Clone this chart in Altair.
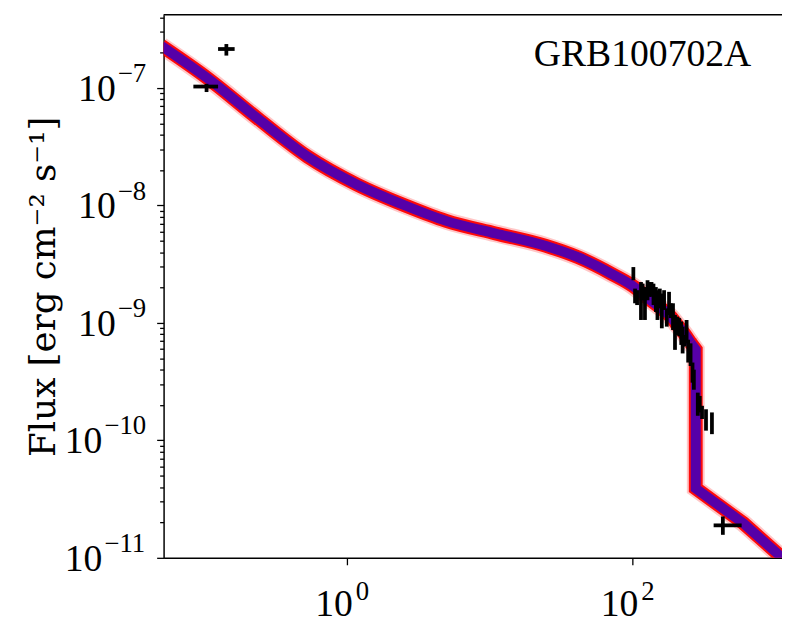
import altair as alt
import pandas as pd

# ---- model curve ----
# smooth part, up to the start of the sharp drop
model1_t = [0.05, 0.1066, 0.237, 0.527, 1.173, 2.61, 4.95, 11.0, 24.5, 41.5, 71.5, 103.3,
            121, 158, 185.6, 206.5, 229.6, 255.7]
model1_f = [2.29e-7, 1.20e-7, 5.51e-8, 2.62e-8, 1.51e-8, 9.9e-9, 7.4e-9, 5.78e-9, 4.55e-9,
            3.63e-9, 2.62e-9, 2.02e-9, 1.72e-9, 1.34e-9, 1.13e-9, 9.6e-10, 8.2e-10, 6.78e-10]
# sharp drop and final decay
model2_t = [255.7, 278, 278, 600, 1083, 1334]
model2_f = [6.78e-10, 5.92e-10, 3.9e-11, 1.97e-11, 1.04e-11, 8.3e-12]

# ---- XRT points: time, flux low, flux high ----
xrt_t = [101.6, 104.4, 107.9, 114.9, 118, 122.5, 127.7, 131.3, 136.2, 140.6, 146.1, 149.9,
         155.7, 160.8, 166.8, 174.2, 180.7, 185.7, 192.6, 198.9, 206.4, 213, 220, 225,
         232.3, 239.9, 246, 255.7, 263.9, 269.7, 287.3, 296.6, 307.7, 328, 361]
xrt_hi = [2.99e-9, 1.96e-9, 1.90e-9, 2.23e-9, 2.16e-9, 2.02e-9, 2.31e-9, 2.23e-9, 2.23e-9,
          2.16e-9, 2.02e-9, 1.90e-9, 1.96e-9, 1.78e-9, 1.90e-9, 1.33e-9, 1.84e-9, 1.47e-9,
          1.47e-9, 1.17e-9, 1.13e-9, 1.10e-9, 1.03e-9, 9.3e-10, 7.9e-10, 1.06e-9, 7.2e-10,
          6.7e-10, 4.6e-10, 4.0e-10, 2.55e-10, 2.39e-10, 1.97e-10, 1.84e-10, 1.73e-10]
xrt_lo = [2.31e-9, 1.47e-9, 1.42e-9, 1.06e-9, 1.56e-9, 1.06e-9, 1.56e-9, 1.67e-9, 1.67e-9,
          1.42e-9, 1.24e-9, 1.06e-9, 1.33e-9, 9.0e-10, 1.29e-9, 9.3e-10, 1.17e-9, 1.10e-9,
          8.7e-10, 5.9e-10, 7.9e-10, 7.7e-10, 6.5e-10, 5.5e-10, 6.3e-10, 6.7e-10, 4.6e-10,
          4.3e-10, 3.1e-10, 2.7e-10, 1.62e-10, 1.73e-10, 1.52e-10, 1.21e-10, 1.13e-10]

# ---- other points with x and y errors ----
pt_t = [0.1038, 0.1429, 430.5]
pt_t_lo = [0.0839, 0.125, 371]
pt_t_hi = [0.125, 0.1633, 583]
pt_f = [1.03e-7, 2.15e-7, 1.89e-11]
pt_f_lo = [9.25e-8, 1.89e-7, 1.57e-11]
pt_f_hi = [1.087e-7, 2.37e-7, 2.25e-11]

# ---- ticks and their labels (base 10 with exponent) ----
x_ticks = [1, 100]
x_exps = ["0", "2"]
y_ticks = [1e-11, 1e-10, 1e-9, 1e-8, 1e-7]
y_exps = ["−11", "−10", "−9", "−8", "−7"]
tick_base = "10"

title_text = "GRB100702A"
y_title = "Flux [erg cm⁻² s⁻¹]"

X_DOMAIN = [0.0519, 1118]
Y_DOMAIN = [1e-11, 4.21e-7]
W, H = 624, 548
FONT = "Liberation Serif"
BASE_SIZE = 38
EXP_SIZE = 27

m1_df = pd.DataFrame({"t": model1_t, "f": model1_f})
m2_df = pd.DataFrame({"t": model2_t, "f": model2_f, "i": list(range(len(model2_t)))})
xrt_df = pd.DataFrame({"t": xrt_t, "lo": xrt_lo, "hi": xrt_hi})
pt_df = pd.DataFrame({"t": pt_t, "tlo": pt_t_lo, "thi": pt_t_hi,
                      "f": pt_f, "flo": pt_f_lo, "fhi": pt_f_hi})
ylab_df = pd.DataFrame({"v": y_ticks, "e": y_exps, "b": [tick_base] * len(y_ticks)})
xlab_df = pd.DataFrame({"v": x_ticks, "e": x_exps, "b": [tick_base] * len(x_ticks)})

y_minor = [m * 10.0 ** e for e in range(-11, -6) for m in range(2, 10) if m * 10.0 ** e < Y_DOMAIN[1]]
y_all = sorted(y_ticks + y_minor)
major_test = " || ".join(f"abs(datum.value/{v!r} - 1) < 1e-6" for v in y_ticks)

x_axis = alt.Axis(values=x_ticks, labels=False, title=None, grid=False, tickSize=7,
                  tickWidth=1.3, tickColor="black", domainColor="black", domainWidth=1.5)
y_axis = alt.Axis(values=y_all, labels=False, title=y_title, grid=False,
                  tickSize={"condition": {"test": major_test, "value": 7}, "value": 4},
                  tickWidth=1.3, tickColor="black", domainColor="black", domainWidth=1.5,
                  titleFont="DejaVu Serif", titleFontSize=36, titleFontWeight="normal",
                  titleColor="black", titleX=-102, titleY=274, titleBaseline="bottom",
                  titleAngle=270)

xs = alt.Scale(type="log", domain=X_DOMAIN, nice=False)
ys = alt.Scale(type="log", domain=Y_DOMAIN, nice=False)


def band(df, interp, ordered):
    enc = dict(x=alt.X("t:Q", scale=xs, axis=x_axis), y=alt.Y("f:Q", scale=ys, axis=y_axis))
    if ordered:
        enc["order"] = "i:Q"
    base = alt.Chart(df).encode(**enc)
    common = dict(clip=True, strokeJoin="miter", strokeCap="butt", interpolate=interp)
    return [
        base.mark_line(color="#ff0000", strokeWidth=18, opacity=0.22, **common),
        base.mark_line(color="#ff0000", strokeWidth=14, opacity=0.95, **common),
        base.mark_line(color="#5600a8", strokeWidth=10, **common),
    ]


layers = band(m1_df, "monotone", False) + band(m2_df, "linear", True)

xrt = alt.Chart(xrt_df).mark_rule(color="black", strokeWidth=3.8).encode(
    x=alt.X("t:Q", scale=xs, axis=x_axis),
    y=alt.Y("lo:Q", scale=ys, axis=y_axis),
    y2="hi:Q",
)
pt_v = alt.Chart(pt_df).mark_rule(color="black", strokeWidth=3.8).encode(
    x=alt.X("t:Q", scale=xs, axis=x_axis),
    y=alt.Y("flo:Q", scale=ys, axis=y_axis),
    y2="fhi:Q",
)
pt_h = alt.Chart(pt_df).mark_rule(color="black", strokeWidth=3.8).encode(
    x=alt.X("tlo:Q", scale=xs, axis=x_axis),
    x2="thi:Q",
    y=alt.Y("f:Q", scale=ys, axis=y_axis),
)

# y tick labels: "10" plus raised exponent
ylab = alt.Chart(ylab_df).transform_calculate(
    bx=f"-14 - {EXP_SIZE}*(0.66 + 0.5*(length(datum.e)-1)) - 3",
    ex=f"-14 - {EXP_SIZE}*(0.66 + 0.5*(length(datum.e)-1)) - 1",
)
ylab_base = ylab.mark_text(align="right", baseline="alphabetic", font=FONT,
                           fontSize=BASE_SIZE, color="black", dy=13).encode(
    x=alt.X("bx:Q", scale=None), y=alt.Y("v:Q", scale=ys, axis=y_axis), text="b:N")
ylab_exp = ylab.mark_text(align="left", baseline="alphabetic", font=FONT,
                          fontSize=EXP_SIZE, color="black", dy=-6).encode(
    x=alt.X("ex:Q", scale=None), y=alt.Y("v:Q", scale=ys, axis=y_axis), text="e:N")

# x tick labels
xlab_base = alt.Chart(xlab_df).mark_text(align="right", baseline="alphabetic", font=FONT,
                                         fontSize=BASE_SIZE, color="black", dx=6).encode(
    x=alt.X("v:Q", scale=xs, axis=x_axis), y=alt.value(H + 59), text="b:N")
xlab_exp = alt.Chart(xlab_df).mark_text(align="left", baseline="alphabetic", font=FONT,
                                        fontSize=EXP_SIZE, color="black", dx=9).encode(
    x=alt.X("v:Q", scale=xs, axis=x_axis), y=alt.value(H + 43), text="e:N")

label = alt.Chart(pd.DataFrame({"txt": [title_text]})).mark_text(
    align="right", baseline="alphabetic", font=FONT, fontSize=38, color="black"
).encode(x=alt.value(593), y=alt.value(52), text="txt:N")

top_border = alt.Chart(pd.DataFrame({"a": [0]})).mark_rule(color="black", strokeWidth=1.5).encode(
    x=alt.value(0), x2=alt.value(W), y=alt.value(0)
)

chart = alt.layer(*layers, xrt, pt_v, pt_h, ylab_base, ylab_exp, xlab_base, xlab_exp,
                  label, top_border).properties(
    width=W, height=H,
    padding={"left": 157, "top": 4, "right": 0, "bottom": 67},
    autosize="none",
    background="white",
).configure_view(stroke=None)

chart.save("out.html", embed_options={"renderer": "svg", "actions": False})
